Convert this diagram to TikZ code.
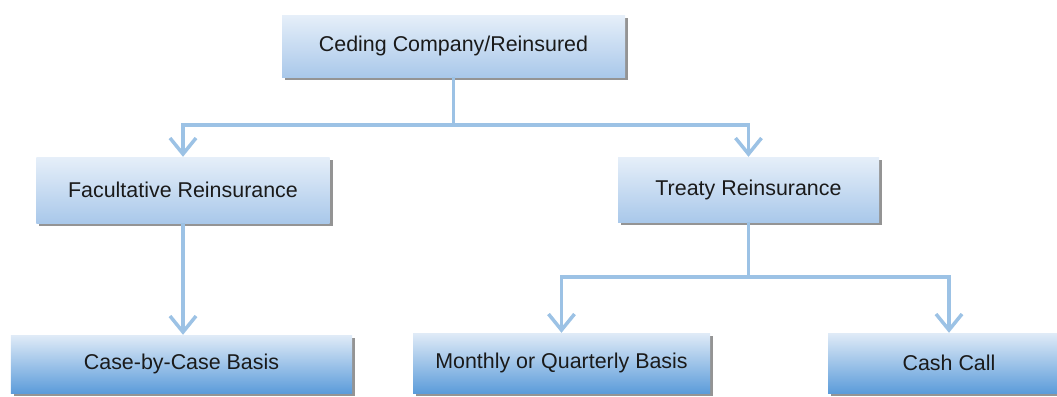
\documentclass[tikz,border=0pt]{standalone}
\usepackage{fontspec}
\setmainfont{Liberation Sans}
\usetikzlibrary{arrows.meta,shadows}
\definecolor{conncol}{HTML}{9CC2E5}
\definecolor{uptop}{HTML}{E6EFF9}
\definecolor{upbot}{HTML}{A9C8EA}
\definecolor{lowtop}{HTML}{E0EBF7}
\definecolor{lowbot}{HTML}{5C9CDA}
\definecolor{txt}{HTML}{1A1A1A}
\begin{document}
\begin{tikzpicture}[x=1bp,y=-1bp,
  box/.style={rectangle, inner sep=0pt, text=txt,
    font=\fontsize{21.5}{25}\selectfont,
    general shadow={fill=black!42, shadow xshift=3bp, shadow yshift=-3bp}},
  upbox/.style={box, top color=uptop, bottom color=upbot},
  lowbox/.style={box, top color=lowtop, bottom color=lowbot},
  conn/.style={draw=conncol, line width=3.5bp},
  arr/.style={conn, -{Straight Barb[length=16bp,width=26bp]}}]
\useasboundingbox (0,0) rectangle (1057,396);
\node[upbox, minimum width=343bp, minimum height=62bp] (top) at (453.5,46) {Ceding Company/Reinsured};
\node[upbox, minimum width=293bp, minimum height=66bp] (fac) at (183,190) {Facultative Reinsurance};
\node[upbox, minimum width=261bp, minimum height=65bp] (treaty) at (748.5,189.5) {Treaty Reinsurance};
\node[lowbox, minimum width=341bp, minimum height=58bp] (case) at (181.5,364) {Case-by-Case Basis};
\node[lowbox, minimum width=297bp, minimum height=60bp] (month) at (561.5,363) {Monthly or Quarterly Basis};
\node[lowbox, minimum width=242bp, minimum height=60bp] (cash) at (949,363) {Cash Call};
\coordinate (j1) at (453.5,125);
\coordinate (j2) at (748.5,277);
\draw[conn] (top.south) -- (j1);
\draw[arr] (j1) -| (fac.north);
\draw[arr] (j1) -| (treaty.north);
\draw[arr] (fac.south) -- (fac.south |- case.north);
\draw[conn] (treaty.south) -- (j2);
\draw[arr] (j2) -| (month.north);
\draw[arr] (j2) -| (cash.north);
\end{tikzpicture}
\end{document}
